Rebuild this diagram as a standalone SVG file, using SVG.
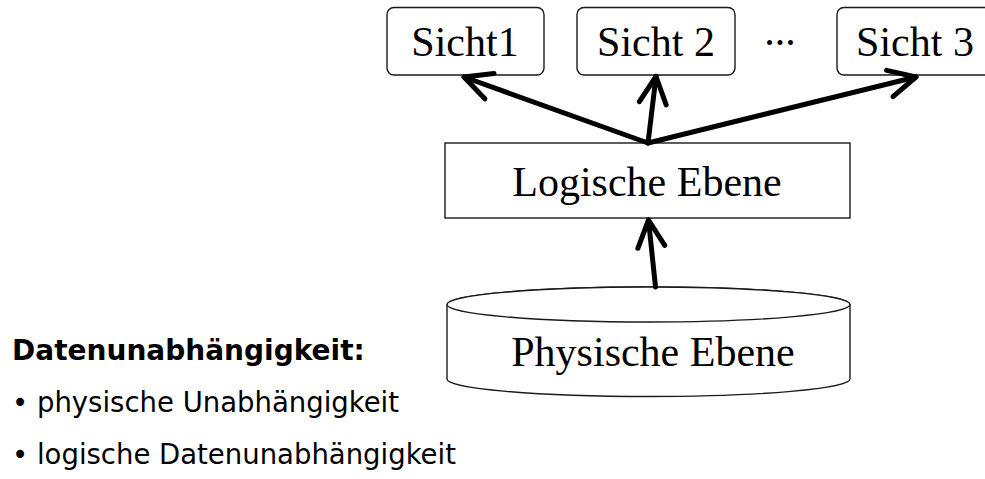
<svg xmlns="http://www.w3.org/2000/svg" width="985" height="479" viewBox="0 0 985 479">
  <style>
    .box { fill: #ffffff; stroke: #1a1a1a; stroke-width: 1.4; }
    .lbl { font-family: "Liberation Serif", "Times New Roman", serif; font-size: 42px; fill: #000; text-anchor: middle; }
    .conn { fill: none; stroke: #000; stroke-width: 5; stroke-linecap: round; stroke-linejoin: round; marker-end: url(#head); }
    .note { font-family: "DejaVu Sans", Verdana, sans-serif; font-size: 27.5px; fill: #000; }
    .note-b { font-family: "DejaVu Sans", Verdana, sans-serif; font-size: 28px; font-weight: bold; fill: #000; }
  </style>
  <defs>
    <!-- open chevron arrowhead -->
    <marker id="head" markerUnits="userSpaceOnUse" viewBox="-34 -20 40 40" markerWidth="40" markerHeight="40" refX="0" refY="0" orient="auto" overflow="visible">
      <path d="M -27 -13.5 L 0 0 L -27 13.5" fill="none" stroke="#000" stroke-width="5" stroke-linecap="round" stroke-linejoin="round"/>
    </marker>
  </defs>

  <rect width="985" height="479" fill="#ffffff"/>

  <!-- external views -->
  <g id="sicht1">
    <rect class="box" x="387" y="7.5" width="157" height="67.5" rx="7"/>
    <text class="lbl" x="465" y="56">Sicht1</text>
  </g>
  <g id="sicht2">
    <rect class="box" x="577" y="7.5" width="158" height="67.5" rx="7"/>
    <text class="lbl" x="656" y="56">Sicht 2</text>
  </g>
  <g id="ellipsis">
    <text class="lbl" x="780" y="45">...</text>
  </g>
  <g id="sicht3">
    <rect class="box" x="837" y="7.5" width="158" height="67.5" rx="7"/>
    <text class="lbl" x="915" y="56">Sicht 3</text>
  </g>

  <!-- logical level -->
  <g id="logisch">
    <rect class="box" x="445" y="143" width="405" height="75"/>
    <text class="lbl" x="647" y="196">Logische Ebene</text>
  </g>

  <!-- physical level (cylinder) -->
  <g id="physisch">
    <path class="box" d="M 447 304.5 A 201.5 17.5 0 0 1 850 304.5 L 850 379 A 201.5 17.5 0 0 1 447 379 Z"/>
    <ellipse class="box" cx="648.5" cy="304.5" rx="201.5" ry="17.5"/>
    <text class="lbl" x="653" y="366">Physische Ebene</text>
  </g>

  <!-- connectors -->
  <g id="connectors">
    <path class="conn" d="M 648 143 L 464 77"/>
    <path class="conn" d="M 648 143 L 656 76.5"/>
    <path class="conn" d="M 648 143 L 916 77"/>
    <path class="conn" d="M 655.5 287 L 648.5 220"/>
  </g>

  <!-- caption -->
  <g id="legende">
    <text class="note-b" x="12" y="360">Datenunabhängigkeit:</text>
    <text class="note" x="12" y="412">• physische Unabhängigkeit</text>
    <text class="note" x="12" y="464">• logische Datenunabhängigkeit</text>
  </g>
</svg>
